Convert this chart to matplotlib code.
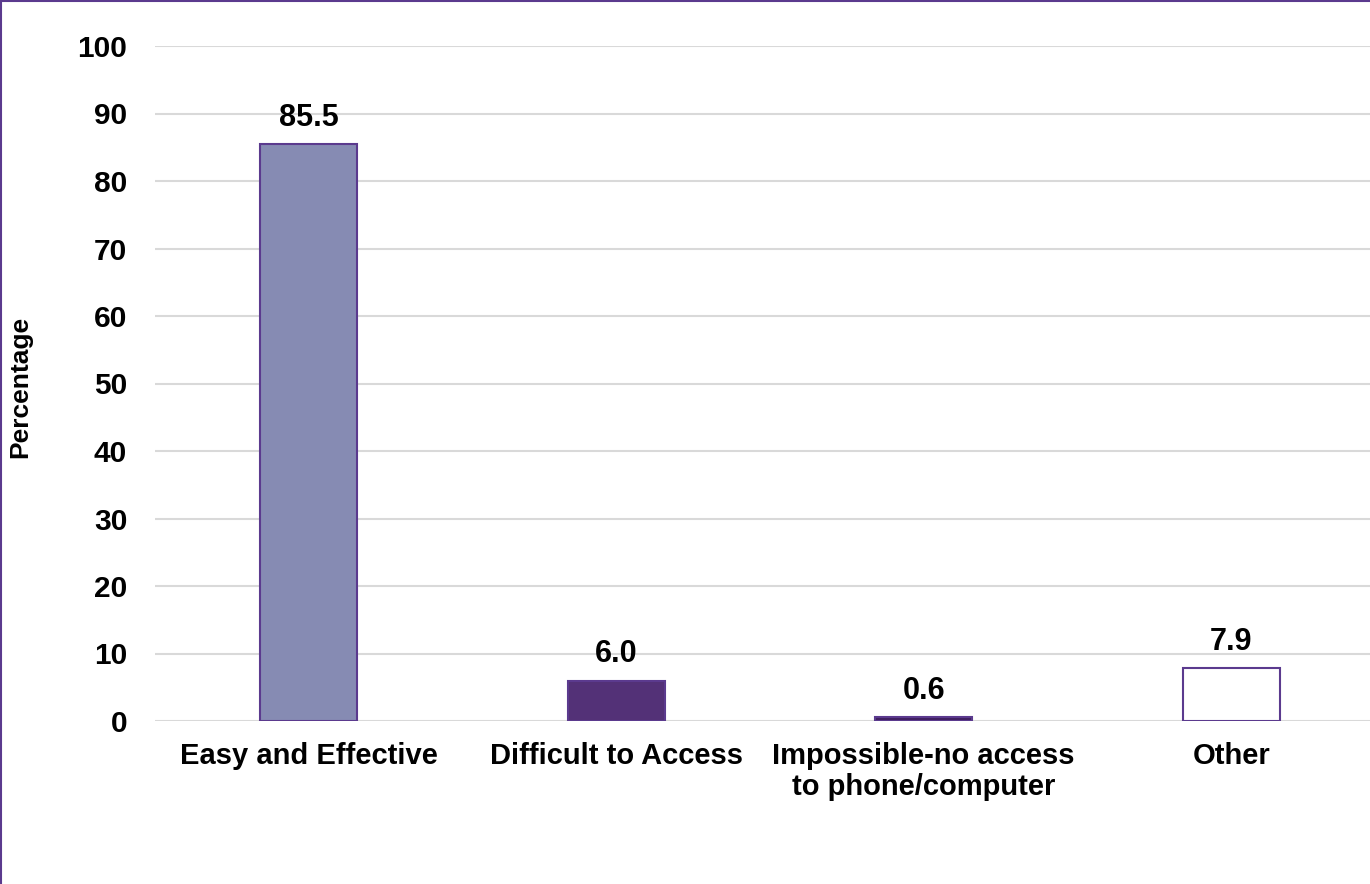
import matplotlib
matplotlib.use('Agg')
import matplotlib.pyplot as plt
from matplotlib.lines import Line2D

categories = ['Easy and Effective', 'Difficult to Access',
              'Impossible-no access\nto phone/computer', 'Other']
values = [85.5, 6.0, 0.6, 7.9]
yticks = [0, 10, 20, 30, 40, 50, 60, 70, 80, 90, 100]

face_colors = ['#868BB3', '#533177', '#3F1F5F', '#FFFFFF']
edge_color = '#5B3A8E'

plt.rcParams['font.family'] = ['Liberation Sans', 'DejaVu Sans']
plt.rcParams['font.weight'] = 'bold'

fig = plt.figure(figsize=(13.7, 8.84), dpi=100)
ax = fig.add_axes([155 / 1370, 163 / 884, 1230 / 1370, 675 / 884])

x = range(len(categories))
ax.bar(x, values, width=0.315, color=face_colors, edgecolor=edge_color,
       linewidth=1.5, zorder=3)

for i, v in enumerate(values):
    ax.annotate(f'{v:.1f}', (i, v), xytext=(0, 8), textcoords='offset points',
                ha='center', va='bottom', fontsize=22, fontweight='bold')

ax.set_xlim(-0.5, 3.5)
ax.set_ylim(0, 100)
ax.set_yticks(yticks)
ax.set_xticks(list(x))
ax.set_xticklabels(categories, fontsize=21, fontweight='bold', linespacing=1.15)
ax.tick_params(axis='y', length=0, pad=20, labelsize=21.5)
ax.tick_params(axis='x', length=0, pad=15)
ax.yaxis.grid(True, color='#D9D9D9', linewidth=1.5, zorder=0)
ax.set_axisbelow(True)
for s in ax.spines.values():
    s.set_visible(False)

fig.text(20 / 1370, 1 - 387 / 884, 'Percentage', rotation=90, ha='center',
         va='center', fontsize=19, fontweight='bold')

# border round the figure (left and top visible in the source)
fig.add_artist(Line2D([0.001, 0.001], [0, 0.999], color=edge_color, linewidth=1.5))
fig.add_artist(Line2D([0.001, 1], [0.999, 0.999], color=edge_color, linewidth=1.5))

fig.savefig('out.png', dpi=100, facecolor='white')
